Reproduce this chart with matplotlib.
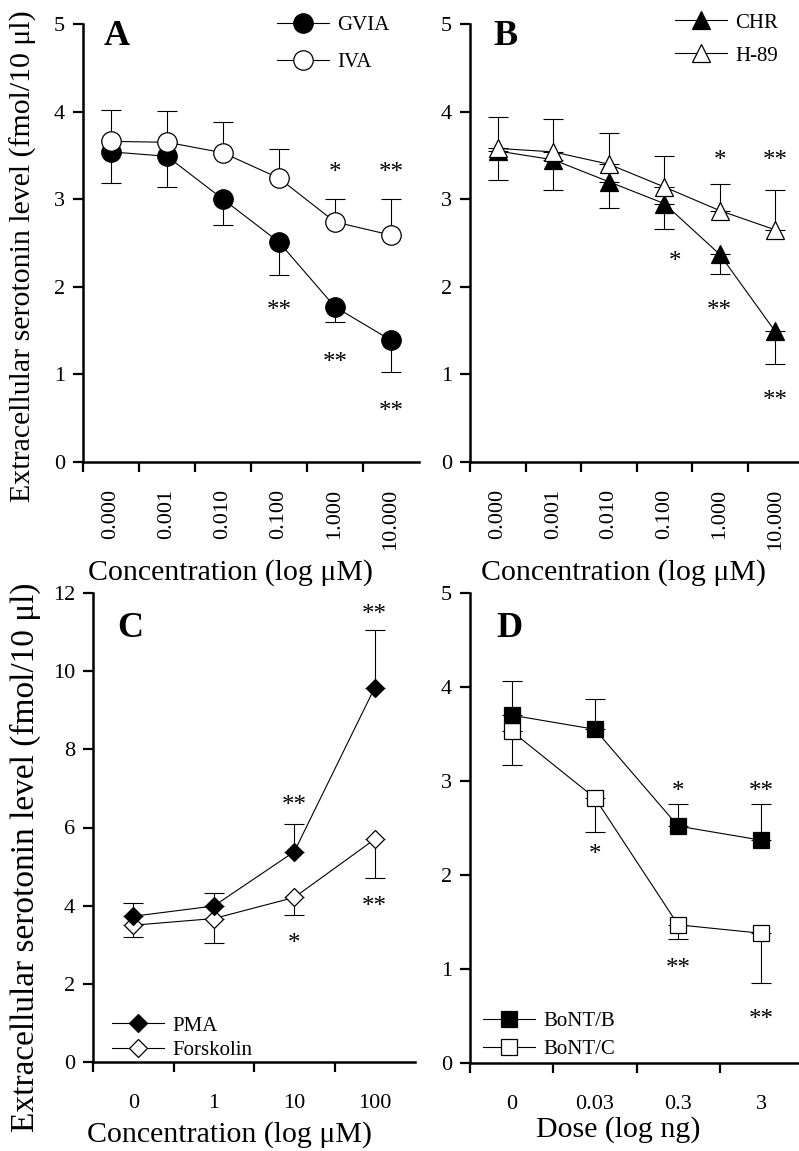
import numpy as np
import matplotlib.pyplot as plt

plt.rcParams['font.family'] = ['Liberation Serif', 'DejaVu Serif']

# panel A / B: concentration categories
conc_labels = ["0.000", "0.001", "0.010", "0.100", "1.000", "10.000"]
gvia = [3.54, 3.49, 3.00, 2.51, 1.77, 1.39]
gvia_err = [0.35, 0.35, 0.29, 0.38, 0.17, 0.36]
iva = [3.66, 3.65, 3.53, 3.24, 2.74, 2.59]
iva_err = [0.36, 0.36, 0.35, 0.33, 0.26, 0.41]

chr_vals = [3.55, 3.45, 3.20, 2.95, 2.37, 1.49]
chr_err = [0.33, 0.34, 0.30, 0.29, 0.22, 0.37]
h89 = [3.58, 3.54, 3.40, 3.14, 2.87, 2.65]
h89_err = [0.36, 0.37, 0.35, 0.35, 0.30, 0.46]

# panel C
conc_labels_c = ["0", "1", "10", "100"]
pma = [3.73, 3.99, 5.38, 9.58]
pma_err = [0.34, 0.34, 0.70, 1.47]
forsk = [3.50, 3.67, 4.21, 5.70]
forsk_err = [0.31, 0.62, 0.45, 0.98]

# panel D
dose_labels = ["0", "0.03", "0.3", "3"]
bont_b = [3.70, 3.55, 2.52, 2.37]
bont_b_err = [0.36, 0.32, 0.24, 0.39]
bont_c = [3.53, 2.82, 1.47, 1.38]
bont_c_err = [0.36, 0.36, 0.15, 0.53]

# significance marks: (category index, y, text)
stars_a = [(3, 1.78, "**"), (4, 1.19, "**"), (5, 0.63, "**"), (4, 3.36, "*"), (5, 3.36, "**")]
stars_b = [(3.2, 2.34, "*"), (4, 1.78, "**"), (5, 0.76, "**"), (4, 3.50, "*"), (5, 3.50, "**")]
stars_c = [(2, 6.68, "**"), (2, 3.16, "*"), (3, 4.10, "**"), (3, 11.56, "**")]
stars_d = [(1, 2.27, "*"), (2, 2.94, "*"), (3, 2.94, "**"), (2, 1.06, "**"), (3, 0.51, "**")]

YLABEL = "Extracellular serotonin level (fmol/10 \u03bcl)"
W, H = 799, 1151
STAR_FS = 18

fig = plt.figure(figsize=(W / 100, H / 100), dpi=100)


def px_axes(left, top, right, bottom):
    return fig.add_axes([left / W, 1 - bottom / H, (right - left) / W, (bottom - top) / H])


def style_panel(ax, labels, ymax, ystep, rotate):
    n = len(labels)
    ax.set_xlim(-0.5, n - 0.5)
    ax.set_ylim(0, ymax)
    ax.set_yticks(np.arange(0, ymax + 0.01, ystep))
    ax.set_xticks(np.arange(n) - 0.5)
    ax.set_xticklabels([])
    ax.set_xticks(np.arange(n), minor=True)
    ax.set_xticklabels(labels, minor=True, rotation=90 if rotate else 0,
                       va='top', ha='center')
    ax.tick_params(which='major', direction='out', length=7, width=1.6, labelsize=16, pad=6)
    ax.tick_params(axis='x', which='minor', length=0, labelsize=16,
                   pad=19 if rotate else 23)
    for s in ['top', 'right']:
        ax.spines[s].set_visible(False)
    for s in ['left', 'bottom']:
        ax.spines[s].set_linewidth(1.8)


def series(ax, y, err, marker, fill, ms, lower, label, z):
    x = np.arange(len(y))
    zeros = np.zeros(len(err))
    yerr = [err, zeros] if lower else [zeros, err]
    ax.errorbar(x, y, yerr=yerr, fmt='none', ecolor='black', elinewidth=0.8,
                capsize=7, capthick=0.8, zorder=z)
    ax.plot(x, y, color='black', lw=0.8, marker=marker, ms=ms, mfc=fill,
            mec='black', mew=0.9, label=label, zorder=z + 0.5)


def stars(ax, marks):
    for i, y, s in marks:
        ax.annotate(s, (i, y), xytext=(0, -0.45 * STAR_FS), textcoords='offset points',
                    ha='center', va='baseline', fontsize=STAR_FS)


def legend(ax, x, y, spacing):
    ax.legend(loc='upper left', bbox_to_anchor=(x, y), frameon=False, fontsize=15,
              handlelength=2.5, handletextpad=0.4, labelspacing=spacing,
              borderpad=0, borderaxespad=0, numpoints=1)


def letter(ax, x, y, s):
    ax.text(x, y, s, transform=ax.transAxes, fontsize=26, fontweight='bold',
            ha='left', va='top')


# A
axA = px_axes(83, 24, 419, 462)
style_panel(axA, conc_labels, 5, 1, True)
series(axA, gvia, gvia_err, 'o', 'black', 14, True, "GVIA", 2)
series(axA, iva, iva_err, 'o', 'white', 14, False, "IVA", 3)
stars(axA, stars_a)
legend(axA, 0.577, 1.02, 0.85)
letter(axA, 0.06, 1.01, "A")
axA.set_xlabel("Concentration (log \u03bcM)", fontsize=21.5)
axA.xaxis.set_label_coords(0.44, -0.222)

# B
axB = px_axes(470, 24, 803, 462)
style_panel(axB, conc_labels, 5, 1, True)
series(axB, chr_vals, chr_err, '^', 'black', 13, True, "CHR", 2)
series(axB, h89, h89_err, '^', 'white', 13, False, "H-89", 3)
stars(axB, stars_b)
legend(axB, 0.616, 1.025, 0.65)
letter(axB, 0.07, 1.01, "B")
axB.set_xlabel("Concentration (log \u03bcM)", fontsize=21.5)
axB.xaxis.set_label_coords(0.46, -0.222)

# C
axC = px_axes(93, 593, 415, 1062)
style_panel(axC, conc_labels_c, 12, 2, False)
series(axC, pma, pma_err, 'D', 'black', 9, False, "PMA", 3)
series(axC, forsk, forsk_err, 'D', 'white', 9, True, "Forskolin", 2)
stars(axC, stars_c)
legend(axC, 0.059, 0.098, 0.25)
letter(axC, 0.075, 0.96, "C")
axC.set_xlabel("Concentration (log \u03bcM)", fontsize=21.5)
axC.xaxis.set_label_coords(0.425, -0.125)

# D
axD = px_axes(470, 593, 803, 1063)
style_panel(axD, dose_labels, 5, 1, False)
series(axD, bont_b, bont_b_err, 's', 'black', 12, False, "BoNT/B", 3)
series(axD, bont_c, bont_c_err, 's', 'white', 12, True, "BoNT/C", 2)
stars(axD, stars_d)
legend(axD, 0.039, 0.11, 0.42)
letter(axD, 0.08, 0.96, "D")
axD.set_xlabel("Dose (log ng)", fontsize=21.5)
axD.xaxis.set_label_coords(0.445, -0.112)

fig.text(23 / W, 1 - 256 / H, YLABEL, rotation=90, ha='center', va='center', fontsize=21.5)
fig.text(25 / W, 1 - 857 / H, YLABEL, rotation=90, ha='center', va='center', fontsize=24)

fig.savefig("out.png", dpi=100)
